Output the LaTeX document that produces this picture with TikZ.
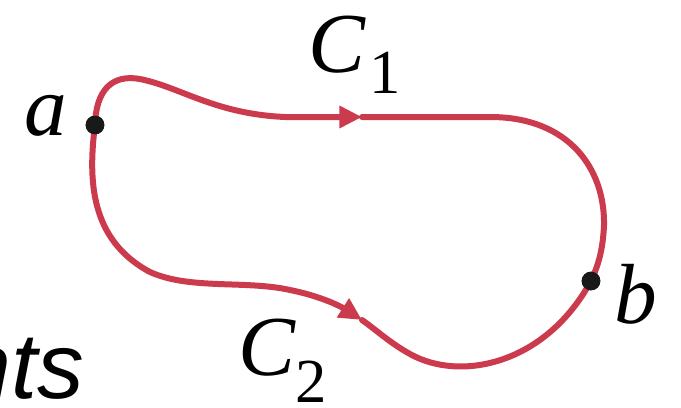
\documentclass[tikz,border=0pt]{standalone}
\usepackage{fontspec}
\newfontfamily\tms{LiberationSerif}[Extension=.ttf, UprightFont=*-Regular, ItalicFont=*-Italic, BoldFont=*-Bold]
\newfontfamily\sansit{LiberationSans}[Extension=.ttf, UprightFont=*-Regular, ItalicFont=*-Italic, BoldFont=*-Bold]
\usetikzlibrary{arrows.meta}
\definecolor{curvered}{RGB}{204,58,78}
\definecolor{dotblack}{RGB}{25,25,25}
\tikzset{
  curve/.style={draw=curvered, line width=4.5pt, line cap=round, line join=round},
  tipped/.style={curve, -{Triangle[length=17pt,width=16pt]}},
  dot/.style={circle, fill=dotblack, inner sep=0pt, minimum size=14pt},
  biglabel/.style={inner sep=0pt, font=\tms\fontsize{64}{64}\selectfont\itshape},
  sublabel/.style={inner sep=0pt, font=\tms\fontsize{47}{47}\selectfont},
  frag/.style={inner sep=0pt, font=\sansit\fontsize{70}{70}\selectfont\itshape}
}
\begin{document}
\begin{tikzpicture}[x=0.75pt,y=-0.75pt]
\useasboundingbox (0,0) rectangle (681,407);
% points
\node[dot] (a) at (95,125) {};
\node[dot] (b) at (591,281) {};
\coordinate (m1) at (362,117);
\coordinate (m2) at (362,320);
% C1
\draw[tipped] (a.center) .. controls (96,90) and (112,74) .. (140,79)
  .. controls (180,87) and (215,114) .. (285,117) -- (m1);
\draw[curve] (m1) -- (490,117) .. controls (570,117) and (605,170) .. (604,225)
  .. controls (603,250) and (598,266) .. (b.center);
% C2
\draw[tipped] (a.center) .. controls (88,180) and (90,240) .. (150,272)
  .. controls (190,290) and (245,280) .. (290,290)
  .. controls (320,296) and (340,306) .. (m2);
\draw[curve] (m2) .. controls (375,329) and (390,343) .. (410,354)
  .. controls (460,382) and (545,365) .. (b.center);
\node[dot] at (a) {};
\node[dot] at (b) {};
% labels
\node[biglabel, anchor=base west] (la) at (24,135) {a};
\node[biglabel, anchor=base west] (lb) at (614,323) {b};
\node[biglabel, anchor=base west] (c1) at (308,72) {C};
\node[sublabel, anchor=base west] (s1) at (369,93) {1};
\node[biglabel, anchor=base west] (c2) at (238,375) {C};
\node[sublabel, anchor=base west] (s2) at (295,402) {2};
\node[frag, anchor=base east] (nts) at (84,398) {nts};
\end{tikzpicture}
\end{document}
